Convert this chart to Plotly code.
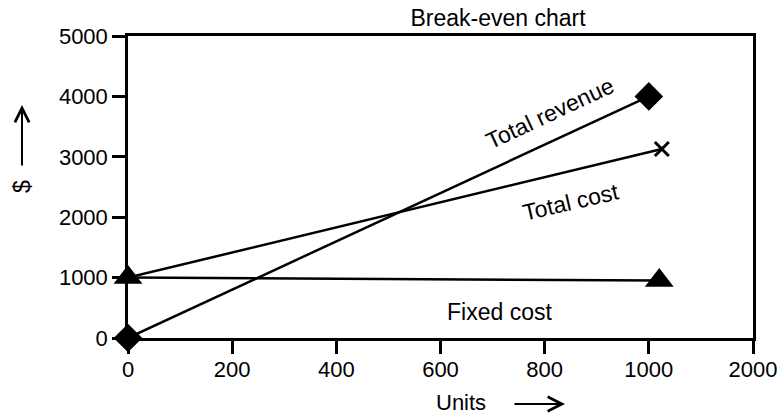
import plotly.graph_objects as go

# Data
units_revenue = [0, 1000]
total_revenue = [0, 4000]
units_cost = [0, 1025]
total_cost = [1000, 3130]
units_fixed = [0, 1020]
fixed_cost = [1000, 950]

x_tickvals = [0, 200, 400, 600, 800, 1000, 1200]
x_ticktext = ["0", "200", "400", "600", "800", "1000", "2000"]
y_tickvals = [0, 1000, 2000, 3000, 4000, 5000]

FONT = "Liberation Sans, Arial, sans-serif"
FS = 22

# plot area in page pixels (reference): x 128..753, y 36..338
PL, PR, PT, PB = 128, 753, 36, 338
def px(x):
    return (x - PL) / (PR - PL)
def py(y):
    return (PB - y) / (PB - PT)

fig = go.Figure()
fig.add_trace(go.Scatter(x=units_revenue, y=total_revenue, mode="lines+markers",
                         line=dict(color="black", width=2.5),
                         marker=dict(symbol="diamond", size=22, color="black"),
                         cliponaxis=False, showlegend=False))
fig.add_trace(go.Scatter(x=units_cost, y=total_cost, mode="lines",
                         line=dict(color="black", width=2.5),
                         cliponaxis=False, showlegend=False))
fig.add_trace(go.Scatter(x=units_cost[-1:], y=total_cost[-1:], mode="markers",
                         marker=dict(symbol="x-thin", size=14, color="black",
                                     line=dict(color="black", width=3)),
                         cliponaxis=False, showlegend=False))
fig.add_trace(go.Scatter(x=units_fixed, y=fixed_cost, mode="lines+markers",
                         line=dict(color="black", width=2.5),
                         marker=dict(symbol="triangle-up", size=25, color="black"),
                         cliponaxis=False, showlegend=False))

txt = dict(size=FS, family=FONT, color="black")
lbl = dict(size=23, family=FONT, color="black")
annots = [
    dict(x=811, y=3720, xref="x", yref="y", text="Total revenue", textangle=-25, showarrow=False, font=lbl),
    dict(x=850, y=2250, xref="x", yref="y", text="Total cost", textangle=-13, showarrow=False, font=lbl),
    dict(x=713, y=430, xref="x", yref="y", text="Fixed cost", showarrow=False, font=lbl),
    dict(x=px(461), y=py(402), xref="paper", yref="paper", text="Units",
         showarrow=False, xanchor="center", yanchor="middle", font=txt),
    dict(x=px(565), y=py(404), xref="paper", yref="paper", text="", showarrow=True,
         ax=-52, ay=0, arrowhead=5, arrowsize=1.4, arrowwidth=2, arrowcolor="black", standoff=0),
    dict(x=px(22), y=py(105), xref="paper", yref="paper", text="", showarrow=True,
         ax=0, ay=62, arrowhead=5, arrowsize=1.4, arrowwidth=2, arrowcolor="black", standoff=0),
    dict(x=px(22), y=py(187), xref="paper", yref="paper", text="$",
         textangle=-90, showarrow=False, xanchor="center", yanchor="middle", font=lbl),
]

fig.update_layout(
    width=781, height=414,
    margin=dict(l=PL, r=781 - PR, t=PT, b=414 - PB, autoexpand=False),
    paper_bgcolor="white", plot_bgcolor="white",
    font=dict(family=FONT, size=FS, color="black"),
    title=dict(text="Break-even chart", x=px(498), xref="paper", xanchor="center",
               y=1 - 18 / 414, yanchor="middle",
               font=dict(size=23, family=FONT, color="black")),
    annotations=annots,
    xaxis=dict(range=[0, 1200], tickvals=x_tickvals, ticktext=x_ticktext, automargin=False,
               showgrid=False, zeroline=False, showline=True, linecolor="black", linewidth=2.5,
               mirror=True, ticks="outside", ticklen=13, tickwidth=2.5, tickcolor="black",
               ticklabelstandoff=-3, tickfont=txt),
    yaxis=dict(range=[0, 5000], tickvals=y_tickvals, automargin=False,
               showgrid=False, zeroline=False, showline=True, linecolor="black", linewidth=2.5,
               mirror=True, ticks="outside", ticklen=13, tickwidth=2.5, tickcolor="black",
               tickfont=txt),
)

fig.write_html("out.html", config={"displayModeBar": False},
               post_script="document.body.style.margin='0';document.body.style.padding='0';")
